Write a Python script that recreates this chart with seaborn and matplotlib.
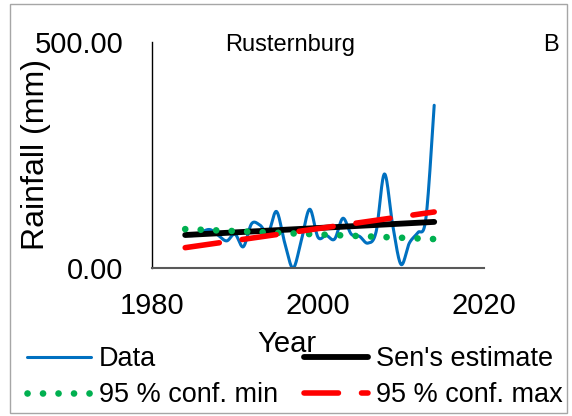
import numpy as np
import pandas as pd
import matplotlib
matplotlib.use("Agg")
import matplotlib.pyplot as plt
from matplotlib.patches import Rectangle
import seaborn as sns

# Annual rainfall, Rusternburg
years = list(range(1984, 2015))
rainfall = [73, 72, 80, 85, 72, 60, 75, 47, 98, 95, 78, 125, 55, 0, 62, 130,
            68, 72, 64, 110, 75, 70, 55, 80, 208, 95, 8, 55, 78, 110, 360]

# Trend lines (value at first and last year)
trend_years = [1984, 2014]
sen_estimate = [73, 102]
conf_min = [86, 64]
conf_max = [45, 124]

x_ticks = [1980, 2000, 2020]
y_ticks = [0, 500]


def smooth_curve(xs, ys, steps=24):
    """Cardinal (Catmull-Rom) Bezier smoothing through the given points."""
    p = np.column_stack([xs, ys]).astype(float)
    n = len(p)
    out = []
    for i in range(n - 1):
        p0 = p[i - 1] if i > 0 else p[i]
        p1, p2 = p[i], p[i + 1]
        p3 = p[i + 2] if i + 2 < n else p[i + 1]
        c1 = p1 + (p2 - p0) / 6.0
        c2 = p2 - (p3 - p1) / 6.0
        t = np.linspace(0, 1, steps, endpoint=(i == n - 2))[:, None]
        seg = ((1 - t) ** 3) * p1 + 3 * ((1 - t) ** 2) * t * c1 \
            + 3 * (1 - t) * t ** 2 * c2 + t ** 3 * p2
        out.append(seg)
    out = np.vstack(out)
    return out[:, 0], out[:, 1]


sns.set_style("white")
plt.rcParams["font.family"] = ["Liberation Sans", "DejaVu Sans"]
plt.rcParams["text.color"] = "black"
plt.rcParams["axes.labelcolor"] = "black"
plt.rcParams["xtick.labelcolor"] = "black"
plt.rcParams["ytick.labelcolor"] = "black"

W, H = 572, 416
fig = plt.figure(figsize=(W / 100, H / 100), dpi=100)
ax = fig.add_axes([152 / W, (H - 268) / H, 332 / W, 226 / H])

sx, sy = smooth_curve(years, rainfall)
curve = pd.DataFrame({"Year": sx, "Rainfall": sy})
sns.lineplot(data=curve, x="Year", y="Rainfall", ax=ax, sort=False,
             estimator=None, color="#0070C0", linewidth=2.2, label="Data",
             legend=False)

trend = pd.DataFrame({"Year": trend_years, "sen": sen_estimate,
                      "lo": conf_min, "hi": conf_max})
sns.lineplot(data=trend, x="Year", y="sen", ax=ax, color="black",
             linewidth=4.2, label="Sen's estimate", legend=False,
             solid_capstyle="round")
sns.lineplot(data=trend, x="Year", y="lo", ax=ax, color="#00B050",
             linewidth=4.8, linestyle=(0, (0.01, 2.315)),
             dash_capstyle="round", label="95 % conf. min", legend=False)
sns.lineplot(data=trend, x="Year", y="hi", ax=ax, color="#FF0000",
             linewidth=4.0, linestyle=(0, (6.2, 4.15)),
             dash_capstyle="round", label="95 % conf. max", legend=False)

ax.set_xlim(1980, 2020)
ax.set_ylim(0, 500)
ax.set_xticks(x_ticks)
ax.set_yticks(y_ticks)
ax.set_yticklabels([f"{v:.2f}" for v in y_ticks])
ax.tick_params(axis="both", labelsize=21, direction="out")
ax.tick_params(axis="y", length=6.5, width=1, color="black", pad=14)
ax.tick_params(axis="x", length=7, width=1.3, color="#595959", pad=10.5)

for s in ("top", "right"):
    ax.spines[s].set_visible(False)
ax.spines["left"].set_color("black")
ax.spines["left"].set_linewidth(1)
ax.spines["bottom"].set_color("#595959")
ax.spines["bottom"].set_linewidth(1.5)

ax.set_xlabel("Year", fontsize=21)
ax.xaxis.set_label_coords((287 - 152) / 332, -0.275)
ax.set_ylabel("Rainfall (mm)", fontsize=23)
ax.yaxis.set_label_coords((51 - 152) / 332, 0.5)

fig.text(290 / W, 1 - 45 / H, "Rusternburg", ha="center", va="center",
         fontsize=17)
fig.text(543 / W, 1 - 45 / H, "B", ha="left", va="center", fontsize=17)

h, l = ax.get_legend_handles_labels()
order = [0, 2, 1, 3]
fig.legend([h[i] for i in order], [l[i] for i in order], loc="upper left",
           bbox_to_anchor=(27 / W, 1 - 346 / H), ncol=2, frameon=False,
           fontsize=19.5, handlelength=2.36, handletextpad=0.3,
           columnspacing=0.96, labelspacing=0.37, borderpad=0,
           borderaxespad=0)

fig.add_artist(Rectangle((10 / W, 3 / H), 557 / W, 409 / H,
                         transform=fig.transFigure, fill=False,
                         edgecolor="#A6A6A6", linewidth=1))

fig.savefig("out.png", dpi=100)
